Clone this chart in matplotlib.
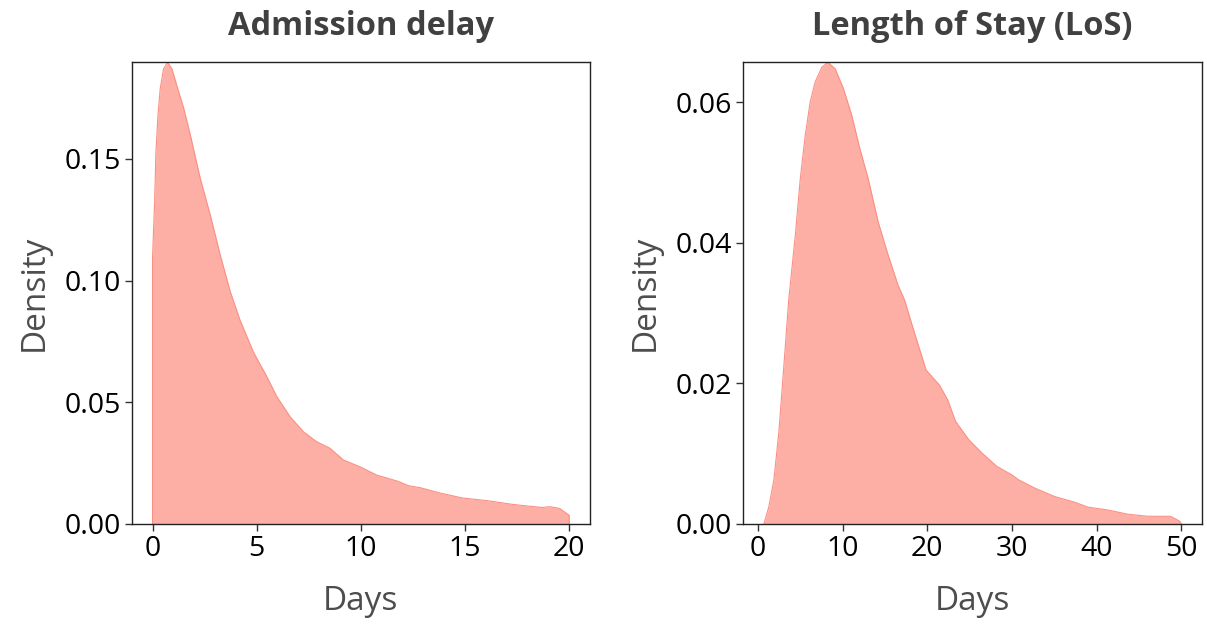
import matplotlib
matplotlib.use("Agg")
import matplotlib.pyplot as plt
import numpy as np

# values (days, density)
delay_days = [0.0, 0.0, 0.05, 0.1, 0.16, 0.26, 0.37, 0.53, 0.72, 0.93, 1.17, 1.49,
              1.81, 2.29, 2.77, 3.25, 3.73, 4.21, 4.85, 5.49, 5.97, 6.6, 7.24,
              7.88, 8.52, 9.16, 9.96, 10.76, 11.76, 12.3, 12.86, 13.77, 14.87, 16.15,
              17.25, 17.98, 18.7, 19.08, 19.54, 20.0, 20.0]
delay_dens = [0.0, 0.109, 0.121, 0.132, 0.152, 0.168, 0.179, 0.187, 0.1897, 0.187,
              0.180, 0.171, 0.160, 0.142, 0.127, 0.1105, 0.0955, 0.0835,
              0.0705, 0.0605, 0.0523, 0.0441, 0.0379, 0.0338, 0.0311, 0.0263, 0.0235,
              0.0201, 0.0176, 0.0157, 0.0149, 0.0128, 0.0107, 0.0095, 0.0081, 0.0074,
              0.0068, 0.0071, 0.0064, 0.0036, 0.0]

los_days = [0.7, 1.29, 1.88, 2.46, 3.05, 3.63, 4.41, 5.0, 5.58, 6.17, 6.75, 7.54,
            8.24, 9.1, 10.08, 11.06, 12.03, 13.0, 14.19, 15.36, 16.53, 17.3, 18.48,
            19.85, 21.41, 22.39, 23.33, 24.89, 26.45, 28.21, 29.97, 30.75, 32.7,
            35.05, 37.4, 38.96, 41.3, 43.65, 46.0, 48.7, 49.8, 50.0]
los_dens = [0.0, 0.0025, 0.0063, 0.013, 0.0224, 0.0319, 0.0411, 0.0492, 0.0553,
            0.0601, 0.0629, 0.065, 0.0657, 0.0648, 0.062, 0.0582, 0.0534, 0.0492,
            0.043, 0.0383, 0.034, 0.0319, 0.0272, 0.0219, 0.0198, 0.0177, 0.0146,
            0.012, 0.0101, 0.0082, 0.007, 0.0063, 0.0051, 0.0039, 0.0031, 0.0024,
            0.002, 0.0014, 0.0011, 0.0011, 0.0004, 0.0]

delay_ticks = [0, 5, 10, 15, 20]
delay_yticks = [0.00, 0.05, 0.10, 0.15]
los_ticks = [0, 10, 20, 30, 40, 50]
los_yticks = [0.00, 0.02, 0.04, 0.06]

plt.rcParams['font.family'] = ['Open Sans', 'DejaVu Sans']

fill_col = '#fdafa6'
edge_col = '#fb8f84'
title_col = '#404040'
label_col = '#4d4d4d'

fig = plt.figure(figsize=(12.07, 6.24), dpi=100)
W, H = 1207, 624
ax1 = fig.add_axes([131.7 / W, 1 - 524 / H, (590 - 131.7) / W, (524 - 62.3) / H])
ax2 = fig.add_axes([743 / W, 1 - 524 / H, (1201.7 - 743) / W, (524 - 62.3) / H])

panels = [
    (ax1, delay_days, delay_dens, delay_ticks, delay_yticks, 'Admission delay', (-1, 21)),
    (ax2, los_days, los_dens, los_ticks, los_yticks, 'Length of Stay (LoS)', (-1.77, 52.4)),
]

for ax, x, y, xt, yt, title, xl in panels:
    ax.fill_between(x, y, 0, color=fill_col, lw=0)
    ax.plot(x, y, color=edge_col, lw=0.8)
    ax.set_xlim(*xl)
    ax.set_ylim(0, max(y))
    ax.set_xticks(xt)
    ax.set_yticks(yt)
    ax.set_yticklabels(['%.2f' % v for v in yt])
    ax.tick_params(labelsize=20.5, length=5, width=1, color='#333333', pad=3)
    for s in ax.spines.values():
        s.set_linewidth(1)
        s.set_color('#222222')
    ax.set_xlabel('Days', fontsize=24, color=label_col, labelpad=16)
    ax.set_ylabel('Density', fontsize=24, color=label_col, labelpad=10)
    ax.set_title(title, fontsize=23.5, fontweight='bold', color=title_col, pad=20)

fig.savefig('out.png', dpi=100)
